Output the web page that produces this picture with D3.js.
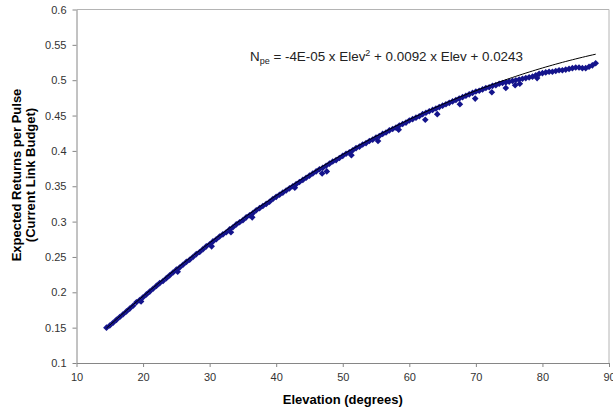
<html>
<head>
<style>
body { margin: 0; background: #fff; }
svg { display: block; background: #fff; }
.tick text { font-family: Arial, "Liberation Sans", sans-serif; font-size: 11px; fill: #333; }
.axis path, .axis line { stroke: #868686; }
.title { font-family: Arial, "Liberation Sans", sans-serif; font-size: 13px; font-weight: bold; fill: #000; }
.eq { font-family: Arial, "Liberation Sans", sans-serif; font-size: 13.4px; fill: #222; }
</style>
<script src="https://d3js.org/d3.v7.min.js"></script>
</head>
<body>
<svg width="613" height="410"></svg>
<script>
// main band of measurements, every half degree
var elevation = [14.5,15,15.5,16,16.5,17,17.5,18,18.5,19,19.5,20,20.5,21,21.5,22,22.5,23,23.5,24,24.5,25,25.5,26,26.5,27,27.5,28,28.5,29,29.5,30,
  30.5,31,31.5,32,32.5,33,33.5,34,34.5,35,35.5,36,36.5,37,37.5,38,38.5,39,39.5,40,40.5,41,41.5,42,42.5,43,43.5,44,44.5,45,45.5,46,46.5,47,47.5,48,
  48.5,49,49.5,50,50.5,51,51.5,52,52.5,53,53.5,54,54.5,55,55.5,56,56.5,57,57.5,58,58.5,59,59.5,60,60.5,61,61.5,62,62.5,63,63.5,64,64.5,65,65.5,66,
  66.5,67,67.5,68,68.5,69,69.5,70,70.5,71,71.5,72,72.5,73,73.5,74,74.5,75,75.5,76,76.5,77,77.5,78,78.5,79,79.5,80,80.5,81,81.5,82,82.5,83,83.5,84,
  84.5,85,85.5,86,86.5,87,87.5,88];
var returns = [0.150,0.153,0.157,0.161,0.165,0.169,0.173,0.177,0.181,0.186,0.189,0.193,0.197,0.201,0.205,0.209,0.213,0.216,0.220,0.224,0.228,0.232,0.235,0.239,0.243,0.246,0.250,0.254,0.257,0.261,0.265,0.268,
  0.272,0.275,0.279,0.282,0.285,0.289,0.292,0.296,0.299,0.302,0.306,0.309,0.312,0.316,0.319,0.322,0.325,0.328,0.332,0.335,0.338,0.341,0.344,0.347,0.350,0.353,0.356,0.359,0.362,0.365,0.368,0.371,0.374,0.376,0.379,0.382,
  0.385,0.387,0.390,0.393,0.396,0.398,0.401,0.404,0.406,0.409,0.411,0.414,0.416,0.419,0.421,0.424,0.426,0.429,0.431,0.433,0.436,0.438,0.440,0.443,0.445,0.447,0.449,0.452,0.454,0.456,0.458,0.460,0.462,0.464,0.466,0.468,
  0.470,0.472,0.474,0.476,0.478,0.480,0.482,0.484,0.485,0.487,0.489,0.490,0.492,0.493,0.495,0.496,0.497,0.498,0.499,0.500,0.501,0.502,0.503,0.504,0.505,0.507,0.509,0.510,0.511,0.512,0.512,0.513,0.514,0.514,0.515,0.516,
  0.517,0.518,0.518,0.517,0.517,0.519,0.521,0.524];

// scattered low readings
var lowElevation = [19.7,25.2,30.3,33.2,36.4,42.8,46.9,47.6,51.3,55.3,58.4,62.4,64.2,67.6,69.9,72.4,74.5,75.9,76.6,79.2];
var lowReturns   = [0.187,0.229,0.265,0.285,0.306,0.348,0.368,0.371,0.394,0.414,0.430,0.444,0.452,0.466,0.474,0.483,0.489,0.493,0.495,0.503];

// polynomial trendline coefficients (c0, c1, c2) as the chart draws it
var trendCoef = [0.0176, 0.00971, -0.0000433];

var xTicks = [10,20,30,40,50,60,70,80,90];
var yTicks = [0.1,0.15,0.2,0.25,0.3,0.35,0.4,0.45,0.5,0.55,0.6];
var eqParts = ["N", "pe", " = -4E-05 x Elev", "2", " + 0.0092 x Elev + 0.0243"];

var svg = d3.select("svg");
var plotL = 76.5, plotR = 609, plotT = 9.5, plotB = 363;

var x = d3.scaleLinear().domain([10, 90]).range([plotL, plotR]);
var y = d3.scaleLinear().domain([0.1, 0.6]).range([plotB, plotT]);

// plot frame (top and right)
svg.append("path")
   .attr("d", "M" + plotL + "," + plotT + "H" + plotR + "V" + plotB)
   .attr("fill", "none")
   .attr("stroke", "#b4b4b4");

svg.append("g")
   .attr("class", "axis")
   .attr("transform", "translate(0," + plotB + ")")
   .call(d3.axisBottom(x).tickValues(xTicks).tickSize(4).tickSizeOuter(0).tickPadding(6));

svg.append("g")
   .attr("class", "axis")
   .attr("transform", "translate(" + plotL + ",0)")
   .call(d3.axisLeft(y).tickValues(yTicks).tickSize(4).tickSizeOuter(0).tickPadding(6)
        .tickFormat(function(d) { return String(+d.toFixed(2)); }));

var points = elevation.map(function(e, i) { return [e, returns[i]]; })
   .concat(lowElevation.map(function(e, i) { return [e, lowReturns[i]]; }));

var diamond = d3.symbol().type(d3.symbolSquare).size(22);
svg.append("g").selectAll("path")
   .data(points)
   .enter()
   .append("path")
   .attr("d", diamond)
   .attr("transform", function(d) { return "translate(" + x(d[0]) + "," + y(d[1]) + ") rotate(45)"; })
   .attr("fill", "#14148c");

// trendline over the data range
var xs = d3.extent(points, function(d) { return d[0]; });
var trendX = d3.range(xs[0], xs[1] + 0.01, 0.5);
var line = d3.line()
   .x(function(d) { return x(d); })
   .y(function(d) { return y(trendCoef[0] + trendCoef[1] * d + trendCoef[2] * d * d); });
svg.append("path")
   .datum(trendX)
   .attr("d", line)
   .attr("fill", "none")
   .attr("stroke", "#000")
   .attr("stroke-width", 1);

// equation label
var eq = svg.append("text").attr("class", "eq").attr("x", 250).attr("y", 61);
eq.append("tspan").text(eqParts[0]);
eq.append("tspan").attr("dy", 3).attr("font-size", "9px").text(eqParts[1]);
eq.append("tspan").attr("dy", -3).text(eqParts[2]);
eq.append("tspan").attr("dy", -5).attr("font-size", "9px").text(eqParts[3]);
eq.append("tspan").attr("dy", 5).text(eqParts[4]);

// axis titles
svg.append("text")
   .attr("class", "title")
   .attr("x", (plotL + plotR) / 2).attr("y", 404)
   .attr("text-anchor", "middle")
   .text("Elevation (degrees)");

var yt = svg.append("text")
   .attr("class", "title")
   .attr("text-anchor", "middle")
   .attr("transform", "translate(21,175) rotate(-90)");
yt.append("tspan").attr("x", 0).attr("dy", 0).text("Expected Returns per Pulse");
yt.append("tspan").attr("x", 0).attr("dy", 14).text("(Current Link Budget)");
</script>
</body>
</html>
